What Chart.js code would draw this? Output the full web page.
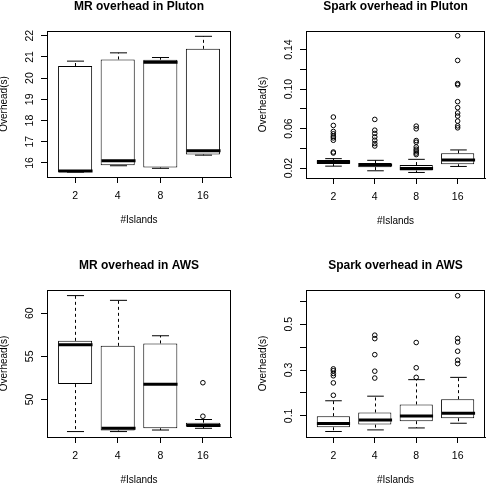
<!DOCTYPE html>
<html>
<head>
<meta charset="utf-8">
<script src="https://cdn.jsdelivr.net/npm/chart.js@4.4.1/dist/chart.umd.min.js"></script>
<style>
    body { margin: 0; background: #fff; }
    #wrap { position: relative; width: 490px; height: 484px; }
    canvas { position: absolute; }
</style>
</head>
<body>
<div id="wrap">
    <canvas id="mrPluton" width="245" height="242" style="left:0;top:0"></canvas>
    <canvas id="sparkPluton" width="245" height="242" style="left:245px;top:0"></canvas>
    <canvas id="mrAws" width="245" height="242" style="left:0;top:242px"></canvas>
    <canvas id="sparkAws" width="245" height="242" style="left:245px;top:242px"></canvas>
</div>
<script>
// Categories (x axis)
const islands = ['2', '4', '8', '16'];

// Box stats per group: [low whisker, Q1, median, Q3, high whisker]
const mrPluton = [
    [15.57, 15.57, 15.62, 20.57, 20.80],
    [15.87, 15.89, 16.11, 20.88, 21.19],
    [15.75, 15.79, 20.75, 20.86, 20.97],
    [16.37, 16.40, 16.58, 21.38, 21.97]
];
const mrPlutonOut = [[], [], [], []];
const mrPlutonTicks = [16, 17, 18, 19, 20, 21, 22];
const mrPlutonTickLabels = ['16', '17', '18', '19', '20', '21', '22'];

const sparkPluton = [
    [0.0220, 0.0241, 0.0261, 0.0282, 0.0296],
    [0.0173, 0.0210, 0.0231, 0.0251, 0.0279],
    [0.0156, 0.0177, 0.0197, 0.0231, 0.0289],
    [0.0217, 0.0238, 0.0282, 0.0350, 0.0384]
];
const sparkPlutonOut = [
    [0.0717, 0.0632, 0.0571, 0.0547, 0.0523, 0.0506, 0.0482, 0.0363, 0.0353],
    [0.0693, 0.0584, 0.0551, 0.0516, 0.0482, 0.0449, 0.0424],
    [0.0625, 0.0598, 0.0479, 0.0462, 0.0414, 0.0391, 0.0373, 0.0353, 0.0337],
    [0.1540, 0.1290, 0.1056, 0.1043, 0.0873, 0.0812, 0.0758, 0.0727, 0.0676, 0.0628, 0.0608]
];
const sparkPlutonTicks = [0.02, 0.04, 0.06, 0.08, 0.10, 0.12, 0.14];
const sparkPlutonTickLabels = ['0.02', '', '0.06', '', '0.10', '', '0.14'];

const mrAws = [
    [46.27, 51.78, 56.34, 56.80, 62.05],
    [46.27, 46.38, 46.65, 56.22, 61.50],
    [46.45, 46.65, 51.75, 56.50, 57.39],
    [46.65, 46.85, 46.97, 47.30, 47.67]
];
const mrAwsOut = [[], [], [], [48.05, 51.94]];
const mrAwsTicks = [50, 55, 60];
const mrAwsTickLabels = ['50', '55', '60'];

const sparkAws = [
    [0.032, 0.0505, 0.067, 0.099, 0.166],
    [0.039, 0.062, 0.0825, 0.115, 0.186],
    [0.0475, 0.077, 0.100, 0.150, 0.258],
    [0.068, 0.090, 0.112, 0.173, 0.268]
];
const sparkAwsOut = [
    [0.190, 0.244, 0.275, 0.285, 0.297, 0.305],
    [0.265, 0.295, 0.367, 0.437, 0.452],
    [0.268, 0.310, 0.420],
    [0.328, 0.343, 0.382, 0.422, 0.438, 0.624]
];
const sparkAwsTicks = [0.1, 0.2, 0.3, 0.4, 0.5, 0.6];
const sparkAwsTickLabels = ['0.1', '', '0.3', '', '0.5', ''];

const INK = '#000';
const FONT = '"Liberation Sans", Arial, Helvetica, sans-serif';

// Panel setup (frame = plot box inside each 245x242 canvas)
const panels = [
    { id: 'mrPluton', title: 'MR overhead in Pluton', stats: mrPluton, out: mrPlutonOut,
      ticks: mrPlutonTicks, labels: mrPlutonTickLabels, yMin: 15.34, yMax: 22.22,
      frame: { left: 47, top: 31, right: 231, bottom: 177 } },
    { id: 'sparkPluton', title: 'Spark overhead in Pluton', stats: sparkPluton, out: sparkPlutonOut,
      ticks: sparkPlutonTicks, labels: sparkPlutonTickLabels, yMin: 0.0100, yMax: 0.1588,
      frame: { left: 61, top: 31, right: 243, bottom: 178 } },
    { id: 'mrAws', title: 'MR overhead in AWS', stats: mrAws, out: mrAwsOut,
      ticks: mrAwsTicks, labels: mrAwsTickLabels, yMin: 45.64, yMax: 62.70,
      frame: { left: 47, top: 48, right: 231, bottom: 195 } },
    { id: 'sparkAws', title: 'Spark overhead in AWS', stats: sparkAws, out: sparkAwsOut,
      ticks: sparkAwsTicks, labels: sparkAwsTickLabels, yMin: 0.0080, yMax: 0.6490,
      frame: { left: 61, top: 48, right: 243, bottom: 195 } }
];

function line(ctx, x1, y1, x2, y2) {
    ctx.beginPath();
    ctx.moveTo(x1, y1);
    ctx.lineTo(x2, y2);
    ctx.stroke();
}

// Whiskers, medians, frame and all text
function extrasPlugin(p) {
    return {
        id: 'boxExtras',
        afterDatasetsDraw(chart) {
            const ctx = chart.ctx;
            const xs = chart.scales.x;
            const ys = chart.scales.y;
            const bars = chart.getDatasetMeta(0).data;
            ctx.save();
            ctx.strokeStyle = INK;
            p.stats.forEach((s, i) => {
                const cx = Math.round(xs.getPixelForValue(i + 1)) + 0.5;
                const half = bars[i].width / 2;
                const yLo = ys.getPixelForValue(s[0]);
                const yQ1 = ys.getPixelForValue(s[1]);
                const yMed = ys.getPixelForValue(s[2]);
                const yQ3 = ys.getPixelForValue(s[3]);
                const yHi = ys.getPixelForValue(s[4]);
                ctx.lineWidth = 1;
                ctx.setLineDash([3, 3]);
                if (yLo - yQ1 > 0.5) line(ctx, cx, yQ1, cx, yLo);
                if (yQ3 - yHi > 0.5) line(ctx, cx, yQ3, cx, yHi);
                ctx.setLineDash([]);
                line(ctx, cx - half / 2, yLo, cx + half / 2, yLo);
                line(ctx, cx - half / 2, yHi, cx + half / 2, yHi);
                ctx.lineWidth = 3;
                line(ctx, cx - half, yMed, cx + half, yMed);
            });
            ctx.restore();
        },
        afterDraw(chart) {
            const ctx = chart.ctx;
            const a = chart.chartArea;
            const xs = chart.scales.x;
            const ys = chart.scales.y;
            ctx.save();
            ctx.strokeStyle = INK;
            ctx.lineWidth = 1;
            ctx.strokeRect(Math.round(a.left) + 0.5, Math.round(a.top) + 0.5,
                Math.round(a.right - a.left) - 1, Math.round(a.bottom - a.top));

            ctx.fillStyle = '#000';
            ctx.textAlign = 'center';
            ctx.textBaseline = 'middle';
            const midX = (a.left + a.right) / 2;

            ctx.font = 'bold 12px ' + FONT;
            ctx.fillText(p.title, midX, a.top - 24.5);

            ctx.font = '10.5px ' + FONT;
            islands.forEach((lab, i) => {
                ctx.fillText(lab, xs.getPixelForValue(i + 1), a.bottom + 19);
            });
            ctx.font = '10px ' + FONT;
            ctx.fillText('#Islands', midX, a.bottom + 43.5);

            ctx.font = '10.5px ' + FONT;
            p.ticks.forEach((v, i) => {
                if (!p.labels[i]) return;
                ctx.save();
                ctx.translate(a.left - 17, ys.getPixelForValue(v));
                ctx.rotate(-Math.PI / 2);
                ctx.fillText(p.labels[i], 0, 0);
                ctx.restore();
            });
            ctx.font = '10px ' + FONT;
            ctx.save();
            ctx.translate(a.left - 43, (a.top + a.bottom) / 2);
            ctx.rotate(-Math.PI / 2);
            ctx.fillText('Overhead(s)', 0, 0);
            ctx.restore();
            ctx.restore();
        }
    };
}

function buildPanel(p) {
    const boxes = p.stats.map((s, i) => ({ x: i + 1, y: [s[1], s[3]] }));
    const points = [];
    p.out.forEach((vals, i) => vals.forEach(v => points.push({ x: i + 1, y: v })));

    new Chart(document.getElementById(p.id), {
        type: 'bar',
        data: {
            datasets: [
                {
                    type: 'bar',
                    data: boxes,
                    backgroundColor: '#fff',
                    borderColor: INK,
                    borderWidth: 1,
                    borderSkipped: false,
                    categoryPercentage: 1,
                    barPercentage: 0.8
                },
                {
                    type: 'scatter',
                    data: points,
                    pointRadius: 2.3,
                    pointBorderWidth: 1,
                    pointBorderColor: INK,
                    pointBackgroundColor: 'rgba(0,0,0,0)'
                }
            ]
        },
        options: {
            responsive: false,
            animation: false,
            devicePixelRatio: 1,
            events: [],
            layout: { padding: { left: 0, top: p.frame.top, right: 245 - p.frame.right, bottom: 0 } },
            plugins: {
                legend: { display: false },
                tooltip: { enabled: false }
            },
            scales: {
                x: {
                    type: 'linear',
                    min: 0.34,
                    max: 4.66,
                    offset: false,
                    afterBuildTicks: s => { s.ticks = islands.map((c, i) => ({ value: i + 1 })); },
                    afterFit: s => { s.height = 242 - p.frame.bottom; },
                    ticks: { display: false },
                    grid: { offset: false, drawOnChartArea: false, drawTicks: true, tickLength: 6, color: INK },
                    border: { display: true, color: INK }
                },
                y: {
                    type: 'linear',
                    min: p.yMin,
                    max: p.yMax,
                    beginAtZero: false,
                    afterBuildTicks: s => { s.ticks = p.ticks.map(v => ({ value: v })); },
                    afterFit: s => { s.width = p.frame.left; },
                    ticks: { display: false },
                    grid: { drawOnChartArea: false, drawTicks: true, tickLength: 6, color: INK },
                    border: { display: true, color: INK }
                }
            }
        },
        plugins: [extrasPlugin(p)]
    });
}

panels.forEach(buildPanel);
</script>
</body>
</html>
